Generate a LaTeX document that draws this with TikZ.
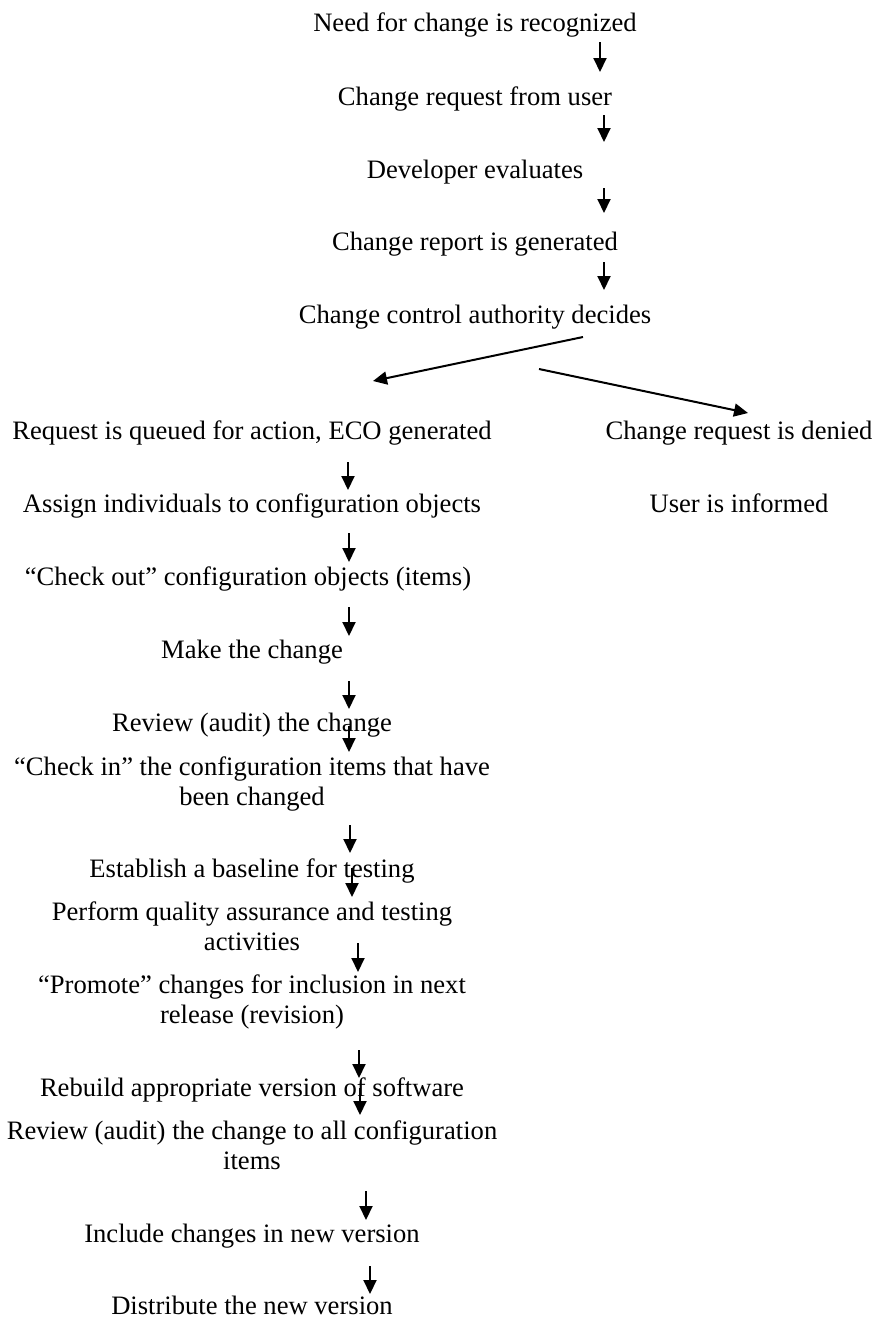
\documentclass[tikz,border=0pt]{standalone}
\usepackage{fontspec}
\setmainfont{Liberation Serif}
\usetikzlibrary{arrows.meta}
\begin{document}
\begin{tikzpicture}[x=1pt,y=-1pt,
  lbl/.style={font=\fontsize{26.6}{30}\selectfont, inner sep=0pt, anchor=base, align=center},
  flow/.style={line width=2pt, -{Triangle[width=13pt,length=14pt]}}]
\useasboundingbox (0,0) rectangle (873,1318);

% upper chain
\node[lbl] (need)    at (475,31)  {Need for change is recognized};
\node[lbl] (request) at (475,105) {Change request from user};
\node[lbl] (dev)     at (475,178) {Developer evaluates};
\node[lbl] (report)  at (475,250) {Change report is generated};
\node[lbl] (cca)     at (475,323) {Change control authority decides};

% the two outcomes
\node[lbl] (queued)  at (252,439) {Request is queued for action, ECO generated};
\node[lbl] (denied)  at (739,439) {Change request is denied};
\node[lbl] (inform)  at (739,512) {User is informed};

% accepted change path (two-line labels are placed by their last baseline)
\node[lbl] (assign)   at (252,512)  {Assign individuals to configuration objects};
\node[lbl] (checkout) at (248,585)  {“Check out” configuration objects (items)};
\node[lbl] (make)     at (252,658)  {Make the change};
\node[lbl] (review)   at (252,731)  {Review (audit) the change};
\node[lbl] (checkin)  at (252,805)  {“Check in” the configuration items that have\\been changed};
\node[lbl] (baseline) at (252,877)  {Establish a baseline for testing};
\node[lbl] (qa)       at (252,950)  {Perform quality assurance and testing\\activities};
\node[lbl] (promote)  at (252,1023) {“Promote” changes for inclusion in next\\release (revision)};
\node[lbl] (rebuild)  at (252,1096) {Rebuild appropriate version of software};
\node[lbl] (audit)    at (252,1169) {Review (audit) the change to all configuration\\items};
\node[lbl] (include)  at (252,1242) {Include changes in new version};
\node[lbl] (distrib)  at (252,1314) {Distribute the new version};

% arrow end points
\coordinate (a1s) at (600,42);    \coordinate (a1e) at (600,72);
\coordinate (a2s) at (604,115);   \coordinate (a2e) at (604,142);
\coordinate (a3s) at (604,188);   \coordinate (a3e) at (604,213);
\coordinate (a4s) at (604,262);   \coordinate (a4e) at (604,290);
\coordinate (dls) at (583,337);   \coordinate (dle) at (373,381);
\coordinate (drs) at (539,369);   \coordinate (dre) at (748,413);
\coordinate (b1s) at (348,462);   \coordinate (b1e) at (348,490);
\coordinate (b2s) at (349,533);   \coordinate (b2e) at (349,562);
\coordinate (b3s) at (349,607);   \coordinate (b3e) at (349,636);
\coordinate (b4s) at (349,681);   \coordinate (b4e) at (349,709);
\coordinate (b5s) at (349,726);   \coordinate (b5e) at (349,752);
\coordinate (b6s) at (350,825);   \coordinate (b6e) at (350,853);
\coordinate (b7s) at (352,868);   \coordinate (b7e) at (352,897);
\coordinate (b8s) at (358,943);   \coordinate (b8e) at (358,972);
\coordinate (b9s) at (359,1050);  \coordinate (b9e) at (359,1078);
\coordinate (b10s) at (360,1088); \coordinate (b10e) at (360,1115);
\coordinate (b11s) at (366,1191); \coordinate (b11e) at (366,1220);
\coordinate (b12s) at (370,1266); \coordinate (b12e) at (370,1294);

\foreach \p in {a1,a2,a3,a4,dl,dr,b1,b2,b3,b4,b5,b6,b7,b8,b9,b10,b11,b12}
  \draw[flow] (\p s) -- (\p e);
\end{tikzpicture}
\end{document}
